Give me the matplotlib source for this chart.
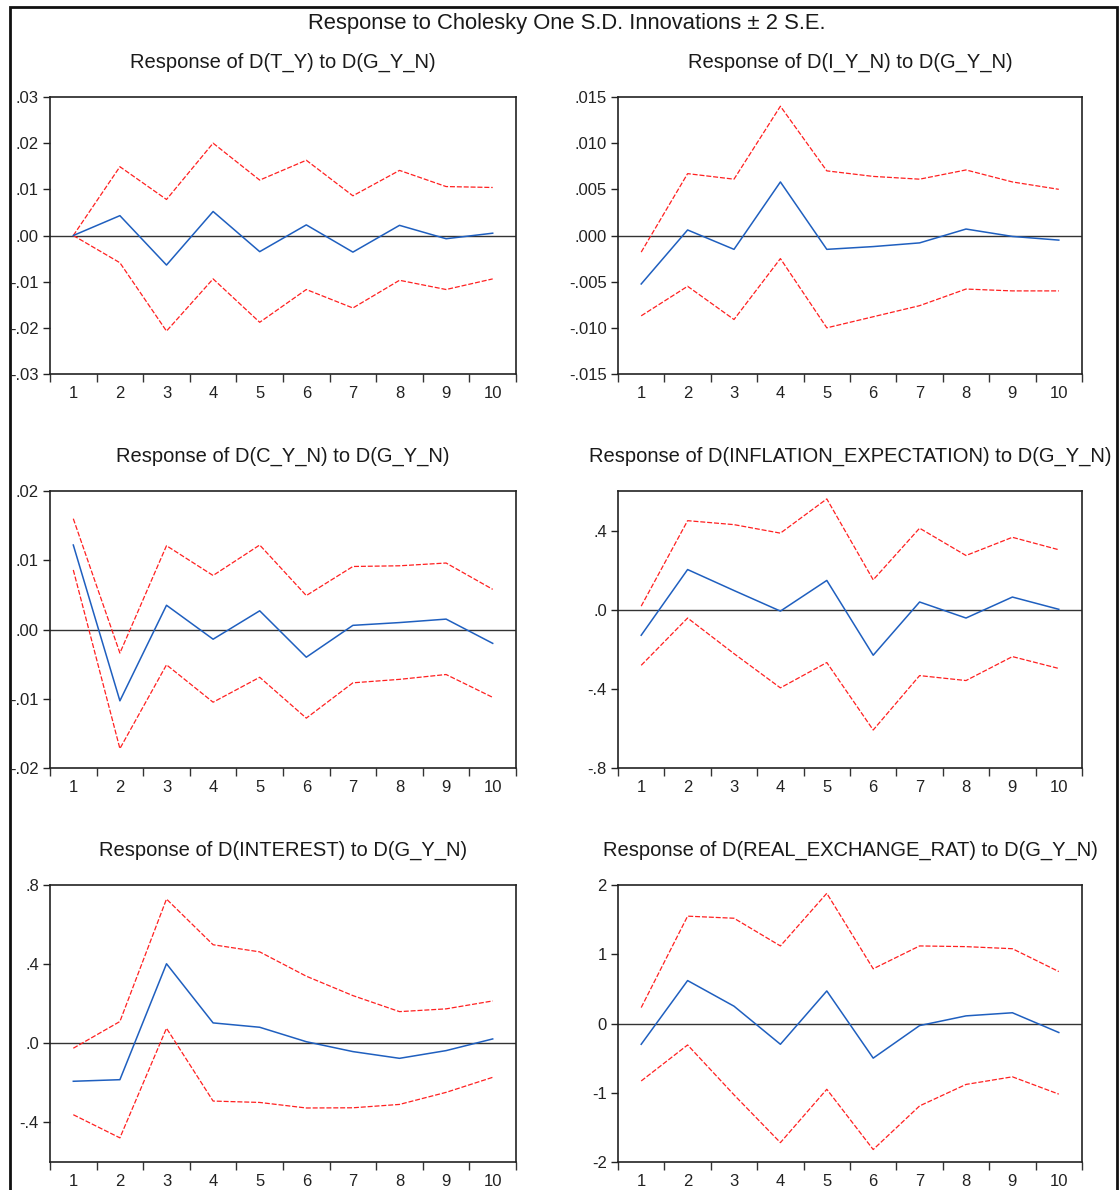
import matplotlib
matplotlib.use("Agg")
import matplotlib.pyplot as plt
from matplotlib.patches import Rectangle

plt.rcParams['font.family'] = ['Liberation Sans', 'DejaVu Sans']

periods = [1, 2, 3, 4, 5, 6, 7, 8, 9, 10]

# D(T_Y)
ty_resp = [0.0, 0.0043, -0.0064, 0.0052, -0.0035, 0.0023, -0.0036, 0.0022, -0.0007, 0.0005]
ty_upper = [0.0, 0.0149, 0.0078, 0.0200, 0.0120, 0.0163, 0.0086, 0.0141, 0.0106, 0.0104]
ty_lower = [0.0, -0.0059, -0.0207, -0.0094, -0.0188, -0.0117, -0.0157, -0.0097, -0.0117, -0.0094]
ty_ticks = [-0.03, -0.02, -0.01, 0.0, 0.01, 0.02, 0.03]
ty_labels = ['-.03', '-.02', '-.01', '.00', '.01', '.02', '.03']

# D(I_Y_N)
iy_resp = [-0.00525, 0.0006, -0.0015, 0.0058, -0.0015, -0.0012, -0.0008, 0.0007, -0.0001, -0.0005]
iy_upper = [-0.0018, 0.0067, 0.0061, 0.0140, 0.0070, 0.0064, 0.0061, 0.0071, 0.0058, 0.0050]
iy_lower = [-0.0087, -0.0055, -0.0091, -0.0025, -0.0100, -0.0088, -0.0076, -0.0058, -0.0060, -0.0060]
iy_ticks = [-0.015, -0.010, -0.005, 0.0, 0.005, 0.010, 0.015]
iy_labels = ['-.015', '-.010', '-.005', '.000', '.005', '.010', '.015']

# D(C_Y_N)
cy_resp = [0.0122, -0.0103, 0.0035, -0.0014, 0.0027, -0.0040, 0.0006, 0.0010, 0.0015, -0.0020]
cy_upper = [0.0160, -0.0034, 0.0121, 0.0078, 0.0122, 0.0049, 0.0091, 0.0092, 0.0096, 0.0058]
cy_lower = [0.0086, -0.0172, -0.0051, -0.0105, -0.0069, -0.0128, -0.0077, -0.0072, -0.0065, -0.0098]
cy_ticks = [-0.02, -0.01, 0.0, 0.01, 0.02]
cy_labels = ['-.02', '-.01', '.00', '.01', '.02']

# D(INFLATION_EXPECTATION)
ie_resp = [-0.129, 0.203, 0.097, -0.007, 0.148, -0.230, 0.039, -0.042, 0.064, 0.002]
ie_upper = [0.018, 0.450, 0.430, 0.387, 0.560, 0.151, 0.412, 0.274, 0.366, 0.303]
ie_lower = [-0.281, -0.042, -0.222, -0.395, -0.267, -0.608, -0.333, -0.358, -0.237, -0.297]
ie_ticks = [-0.8, -0.4, 0.0, 0.4]
ie_labels = ['-.8', '-.4', '.0', '.4']

# D(INTEREST)
in_resp = [-0.192, -0.184, 0.402, 0.103, 0.081, 0.008, -0.042, -0.076, -0.037, 0.022]
in_upper = [-0.025, 0.110, 0.729, 0.498, 0.462, 0.339, 0.241, 0.160, 0.174, 0.214]
in_lower = [-0.361, -0.478, 0.076, -0.292, -0.299, -0.327, -0.326, -0.309, -0.248, -0.172]
in_ticks = [-0.4, 0.0, 0.4, 0.8]
in_labels = ['-.4', '.0', '.4', '.8']

# D(REAL_EXCHANGE_RAT)
rx_resp = [-0.30, 0.62, 0.25, -0.30, 0.47, -0.50, -0.03, 0.11, 0.155, -0.13]
rx_upper = [0.23, 1.55, 1.52, 1.12, 1.88, 0.79, 1.12, 1.11, 1.08, 0.75]
rx_lower = [-0.83, -0.31, -1.03, -1.72, -0.95, -1.82, -1.19, -0.88, -0.77, -1.02]
rx_ticks = [-2, -1, 0, 1, 2]
rx_labels = ['-2', '-1', '0', '1', '2']

titles = [
    "Response of D(T_Y) to D(G_Y_N)",
    "Response of D(I_Y_N) to D(G_Y_N)",
    "Response of D(C_Y_N) to D(G_Y_N)",
    "Response of D(INFLATION_EXPECTATION) to D(G_Y_N)",
    "Response of D(INTEREST) to D(G_Y_N)",
    "Response of D(REAL_EXCHANGE_RAT) to D(G_Y_N)",
]

panels = [
    (ty_resp, ty_upper, ty_lower, ty_ticks, ty_labels, (-0.03, 0.03)),
    (iy_resp, iy_upper, iy_lower, iy_ticks, iy_labels, (-0.015, 0.015)),
    (cy_resp, cy_upper, cy_lower, cy_ticks, cy_labels, (-0.02, 0.02)),
    (ie_resp, ie_upper, ie_lower, ie_ticks, ie_labels, (-0.8, 0.6)),
    (in_resp, in_upper, in_lower, in_ticks, in_labels, (-0.6, 0.8)),
    (rx_resp, rx_upper, rx_lower, rx_ticks, rx_labels, (-2, 2)),
]

W, H = 1120, 1190
fig = plt.figure(figsize=(W / 100, H / 100), dpi=100)

# axes boxes in pixels: left/right per column, top/bottom per row
col_x = [(50, 516), (618, 1082)]
row_y = [(97, 374), (491, 768), (885, 1162)]

for i, (resp, up, lo, ticks, labels, ylim) in enumerate(panels):
    r, c = divmod(i, 2)
    x0, x1 = col_x[c]
    y0, y1 = row_y[r]
    ax = fig.add_axes([x0 / W, 1 - y1 / H, (x1 - x0) / W, (y1 - y0) / H])
    ax.axhline(0, color='#333333', lw=1.0, zorder=1)
    ax.plot(periods, up, color='#ff2020', lw=0.9, ls=(0, (4, 1.5)), zorder=2)
    ax.plot(periods, lo, color='#ff2020', lw=0.9, ls=(0, (4, 1.5)), zorder=2)
    ax.plot(periods, resp, color='#1f5fbf', lw=1.1, zorder=3)
    ax.set_xlim(0.5, 10.5)
    ax.set_ylim(*ylim)
    ax.set_yticks(ticks)
    ax.set_yticklabels(labels)
    ax.set_xticks(periods)
    ax.set_xticklabels([str(p) for p in periods])
    ax.set_xticks([p + 0.5 for p in range(0, 11)], minor=True)
    ax.tick_params(axis='x', which='major', length=0, pad=9, labelsize=12, colors='#222222')
    ax.tick_params(axis='x', which='minor', length=6, width=1.0, direction='out', color='#333333')
    ax.tick_params(axis='y', length=5, width=1.0, direction='out', pad=3, labelsize=12,
                   colors='#222222')
    for s in ax.spines.values():
        s.set_linewidth(1.2)
        s.set_color('#222222')
    ax.set_title(titles[i], fontsize=14.5, pad=21, color='#1a1a1a')

fig.text(567 / W, 1 - 23 / H, "Response to Cholesky One S.D. Innovations \u00b1 2 S.E.",
         ha='center', va='center', fontsize=15.8, color='#1a1a1a')

# outer frame
fig.patches.append(Rectangle((10 / W, -0.05), 1107 / W, 1 - 7 / H + 0.05,
                             transform=fig.transFigure, fill=False,
                             edgecolor='#111111', lw=2.0))

fig.savefig('out.png', dpi=100)
